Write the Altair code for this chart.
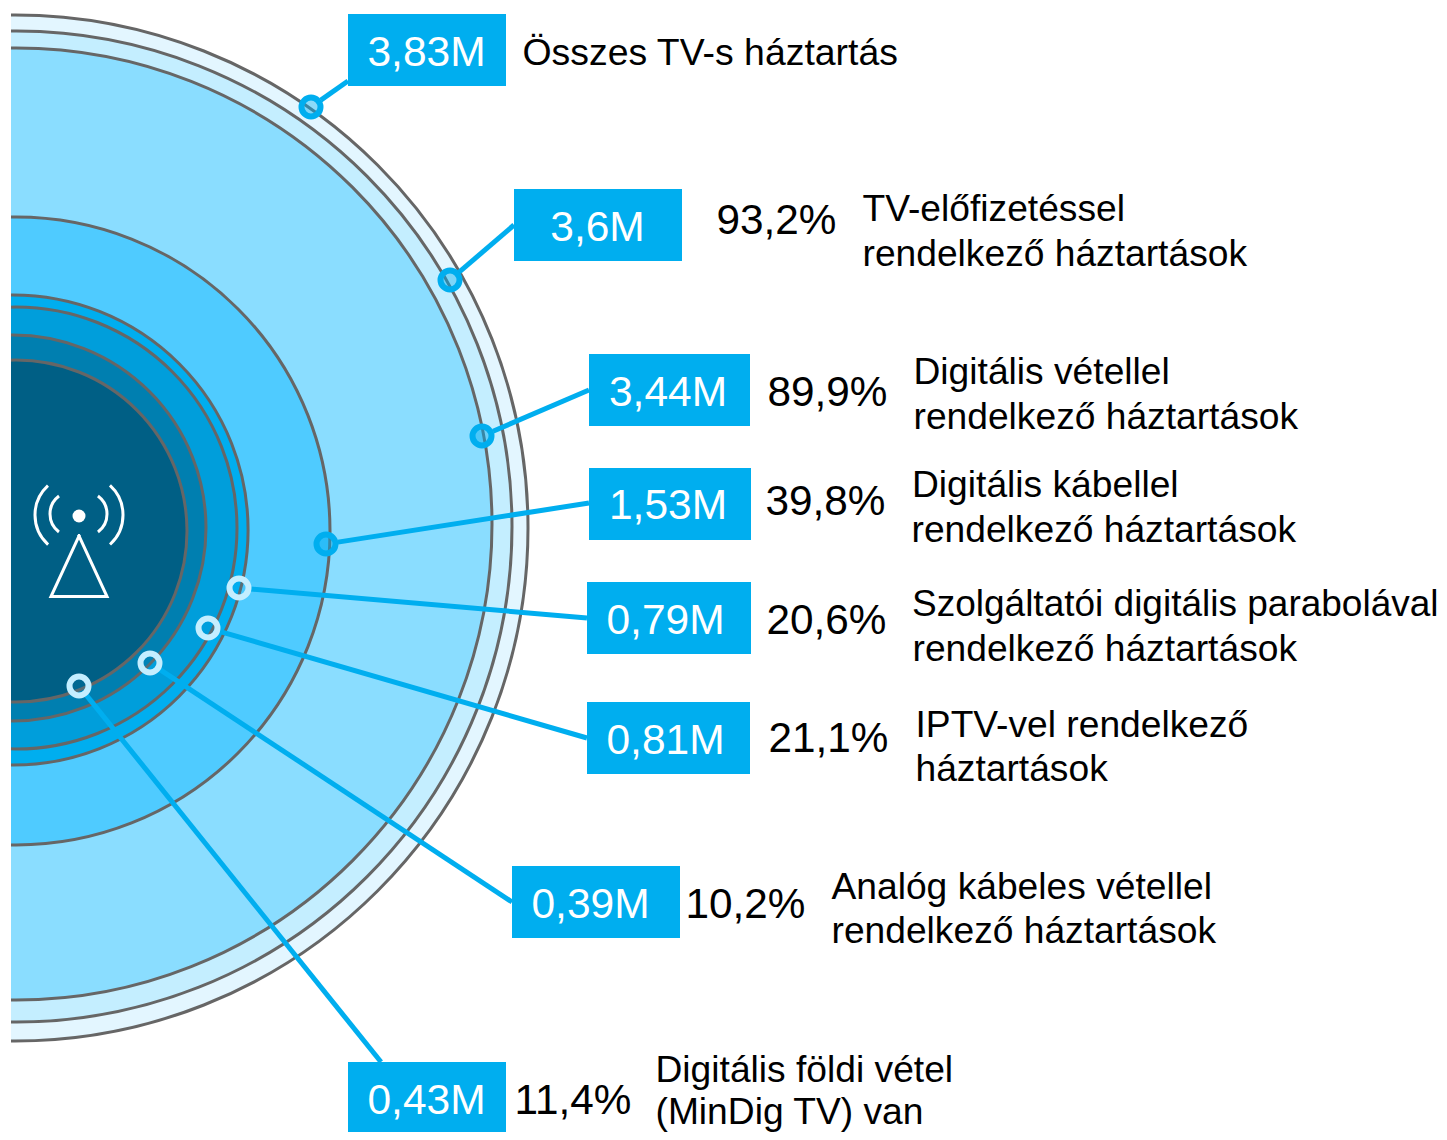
import math
import altair as alt
import pandas as pd

# --- values
totals = ["3,83M", "3,6M", "3,44M", "1,53M", "0,79M", "0,81M", "0,39M", "0,43M"]
shares = [None, "93,2%", "89,9%", "39,8%", "20,6%", "21,1%", "10,2%", "11,4%"]
labels_1 = ["Összes TV-s háztartás", "TV-előfizetéssel", "Digitális vétellel", "Digitális kábellel",
            "Szolgáltatói digitális parabolával", "IPTV-vel rendelkező", "Analóg kábeles vétellel",
            "Digitális földi vétel"]
labels_2 = [None, "rendelkező háztartások", "rendelkező háztartások", "rendelkező háztartások",
            "rendelkező háztartások", "háztartások", "rendelkező háztartások", "(MinDig TV) van"]

# --- layout of the diagram, in picture coordinates
ring_r = [513, 495.5, 476, 314, 235, 221, 193, 171]
ring_cx = [15, 16.5, 16, 16, 13, 16, 13, 16]
ring_cy = [528, 526.5, 524, 531, 530, 528, 528, 531]
ring_fill = ["#E3F6FF", "#C4EEFF", "#8ADDFF", "#4FCBFF", "#00AEEF", "#009EDB", "#007FB0", "#005F85"]

box_x0 = [348, 514, 589, 589, 587, 587, 512, 348]
box_x1 = [506, 682, 750, 751, 751, 750, 680, 506]
box_y0 = [14, 189, 354, 468, 582, 702, 866, 1062]
box_text_x = [426.5, 597.5, 668, 668, 665.5, 665.5, 590.5, 426.5]
box_text_y = [66, 241, 406, 519, 634, 754, 918, 1114]
share_x = [0, 716.5, 767.5, 765.5, 766.5, 768.5, 685.5, 514.5]
share_y = [0, 234, 406, 515, 634, 752, 918, 1114]
label_x1 = [522.5, 862.5, 913.5, 912, 912, 915.5, 831.5, 655.5]
label_x2 = [522.5, 862.5, 913.5, 911.5, 912.5, 915.5, 831.5, 655.5]
label_y1 = [65, 221, 384, 497, 616, 737, 899, 1082]
label_y2 = [0, 266, 429, 542, 661, 781, 943, 1124]
label_fs1 = [37.4, 37.2, 37.2, 37.2, 37, 37.2, 37.2, 37.2]
dot_x = [311, 450, 482, 326, 239, 208, 150, 79]
dot_y = [107, 280, 436, 544, 588, 628, 663, 686]
lead_x = [348, 514, 589, 589, 587, 587, 512, 381]
lead_y = [81, 225, 390, 503, 618, 738, 902, 1062]
dot_ring = ["#00AEEF"] * 4 + ["#C4EEFF"] * 4
dot_alpha = [0.45] * 4 + [0.12] * 4

BLUE = "#00AEEF"
FONT = "Liberation Sans"
W, H = 1431, 1124
xs = alt.Scale(domain=[8, 1439], range=[0, W], nice=False, zero=False)
ys = alt.Scale(domain=[8, 1132], range=[0, H], nice=False, zero=False)
X = lambda f: alt.X(f, type="quantitative", scale=xs, axis=None)
Y = lambda f: alt.Y(f, type="quantitative", scale=ys, axis=None)

rings = pd.DataFrame({"r": ring_r, "cx": ring_cx, "cy": ring_cy, "fill": ring_fill, "o": range(8)})
ring_layer = alt.Chart(rings).mark_arc(theta=0, theta2=2 * math.pi, stroke="#666666", strokeWidth=3).encode(
    x=X("cx"), y=Y("cy"),
    radius=alt.Radius("r:Q", scale=None, stack=None),
    fill=alt.Fill("fill:N", scale=None),
    order=alt.Order("o:Q"),
)

cover = alt.Chart(pd.DataFrame({"x0": [8], "x1": [11], "y0": [8], "y1": [1132]})).mark_rect(
    fill="white", stroke=None
).encode(x=X("x0"), x2="x1", y=Y("y0"), y2="y1")

# leader lines stop at the edge of their dot
starts = []
for dx, dy, lx, ly in zip(dot_x, dot_y, lead_x, lead_y):
    d = math.hypot(lx - dx, ly - dy)
    starts.append((dx + (lx - dx) * 12 / d, dy + (ly - dy) * 12 / d))
leads = pd.DataFrame({"x0": [s[0] for s in starts], "y0": [s[1] for s in starts], "x1": lead_x, "y1": lead_y})
lead_layer = alt.Chart(leads).mark_rule(color=BLUE, strokeWidth=5).encode(
    x=X("x0"), x2="x1", y=Y("y0"), y2="y1")

boxes = pd.DataFrame({"x0": box_x0, "x1": box_x1, "y0": box_y0, "y1": [b + 72 for b in box_y0]})
box_layer = alt.Chart(boxes).mark_rect(fill=BLUE, stroke=None).encode(
    x=X("x0"), x2="x1", y=Y("y0"), y2="y1")

dots = pd.DataFrame({"x": dot_x, "y": dot_y, "ring": dot_ring, "a": dot_alpha})
dot_layer = alt.Chart(dots).mark_point(shape="circle", filled=False, size=361, strokeWidth=6, fill=BLUE).encode(
    x=X("x"), y=Y("y"),
    stroke=alt.Stroke("ring:N", scale=None),
    fillOpacity=alt.FillOpacity("a:Q", scale=None),
    opacity=alt.value(1),
)

# tower icon
waves = pd.DataFrame({
    "cx": [75, 83, 72.5, 84.5], "cy": [515, 515, 514, 514], "r": [40, 40, 22.5, 22.5],
    "t0": [3.88, 0.74, 3.79, 0.64], "t1": [5.54, 2.40, 5.64, 2.50],
})
wave_layer = alt.Chart(waves).mark_arc(stroke="white", strokeWidth=3, fillOpacity=0, fill="white").encode(
    x=X("cx"), y=Y("cy"),
    theta=alt.Theta("t0:Q", scale=None, stack=None), theta2="t1:Q",
    radius=alt.Radius("r:Q", scale=None, stack=None), radius2="r:Q",
)
beacon = alt.Chart(pd.DataFrame({"x": [79], "y": [516]})).mark_point(
    shape="circle", filled=True, size=169, color="white", opacity=1).encode(x=X("x"), y=Y("y"))
mast = pd.DataFrame({"x": [79, 107, 51, 79], "y": [536, 596.5, 596.5, 536], "o": [0, 1, 2, 3]})
mast_layer = alt.Chart(mast).mark_line(color="white", strokeWidth=3, strokeJoin="miter", strokeCap="square").encode(
    x=X("x"), y=Y("y"), order="o:Q")

total_df = pd.DataFrame({"t": totals, "x": box_text_x, "y": box_text_y})
total_layer = alt.Chart(total_df).mark_text(font=FONT, fontSize=42.5, color="white", align="center", baseline="alphabetic").encode(
    x=X("x"), y=Y("y"), text="t:N")

share_df = pd.DataFrame({"t": shares, "x": share_x, "y": share_y}).dropna()
share_layer = alt.Chart(share_df).mark_text(font=FONT, fontSize=42.3, color="black", align="left", baseline="alphabetic").encode(
    x=X("x"), y=Y("y"), text="t:N")

label_df = pd.DataFrame({
    "t": labels_1 + labels_2,
    "x": label_x1 + label_x2,
    "y": label_y1 + label_y2,
    "fs": label_fs1 + [37.2] * 8,
}).dropna()
label_layer = alt.Chart(label_df).mark_text(font=FONT, color="black", align="left", baseline="alphabetic").encode(
    x=X("x"), y=Y("y"), text="t:N", size=alt.Size("fs:Q", scale=None))

chart = alt.layer(
    ring_layer, cover, lead_layer, box_layer, dot_layer, wave_layer, beacon, mast_layer,
    total_layer, share_layer, label_layer,
).properties(
    width=W, height=H, padding=0,
    autosize=alt.AutoSizeParams(type="none", contains="padding"),
    background="white",
).configure_view(stroke=None)

chart.save("out.html", embed_options={"renderer": "svg", "actions": False})
